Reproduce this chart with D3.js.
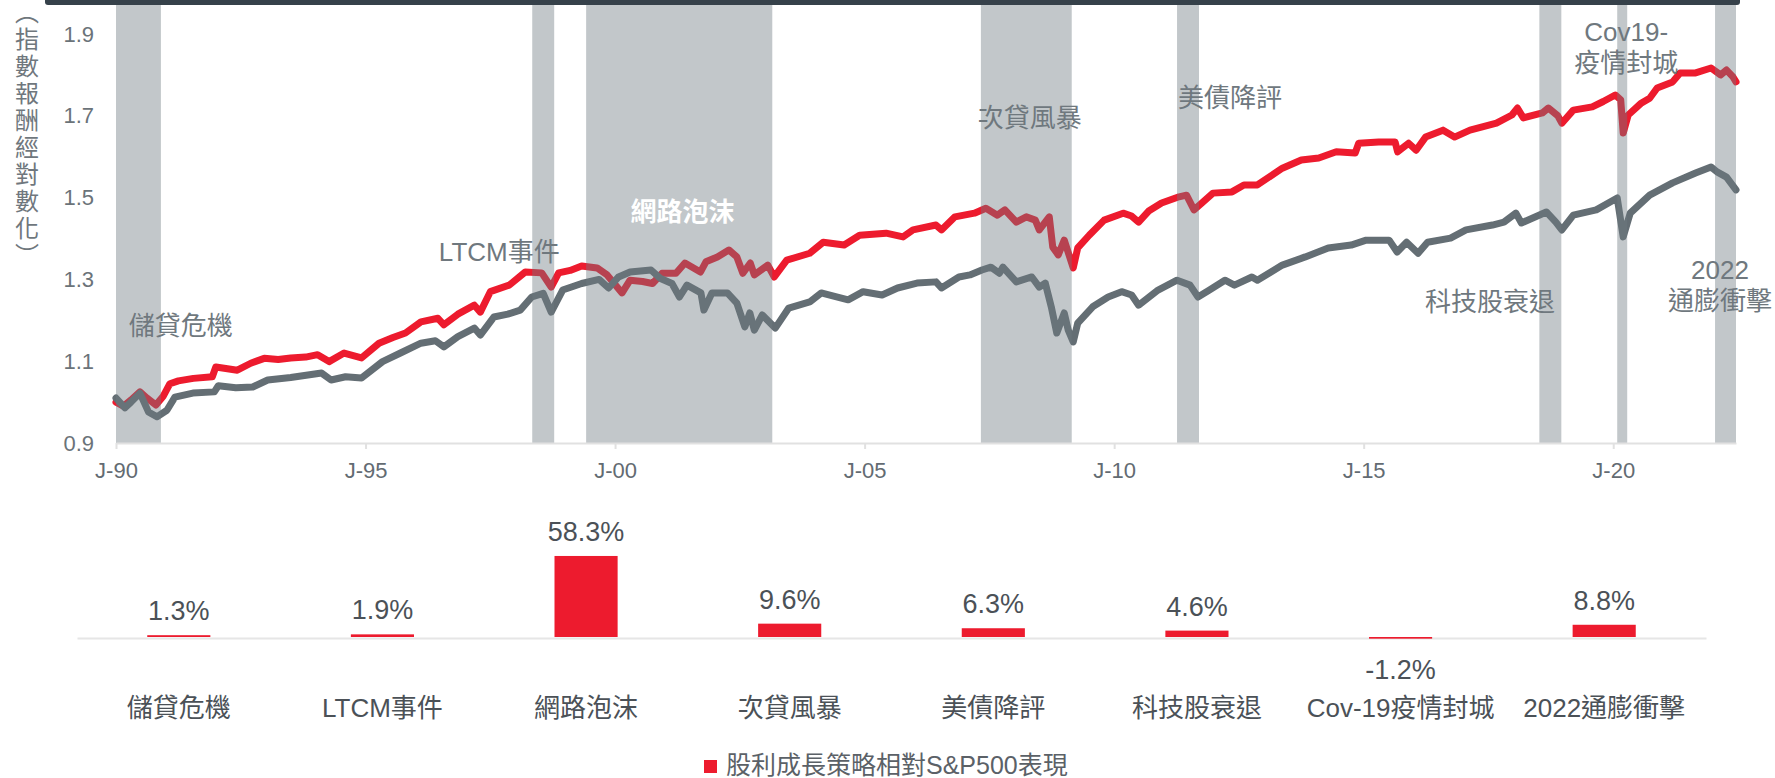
<!DOCTYPE html>
<html>
<head>
<meta charset="utf-8">
<script src="https://cdn.jsdelivr.net/npm/d3@7"></script>
<style>
  body { margin: 0; background: #fff; }
  svg { display: block; font-family: "Liberation Sans", Arial, "Noto Sans CJK TC", sans-serif; }
</style>
</head>
<body>
<svg id="chart" width="1775" height="778"></svg>
<script>
'use strict';

// top panel: log-return index, [year, value]
var dividendGrowth = [
  [1990.00, 1.000], [1990.15, 0.990], [1990.30, 1.005], [1990.48, 1.025], [1990.62, 1.010],
  [1990.80, 0.993], [1990.95, 1.015], [1991.08, 1.045], [1991.25, 1.052], [1991.55, 1.058],
  [1991.93, 1.062], [1992.00, 1.086], [1992.20, 1.082], [1992.43, 1.078], [1992.70, 1.095],
  [1992.97, 1.107], [1993.25, 1.104], [1993.50, 1.108], [1993.80, 1.110], [1994.04, 1.116],
  [1994.27, 1.099], [1994.57, 1.120], [1994.92, 1.108], [1995.27, 1.144], [1995.55, 1.158],
  [1995.80, 1.169], [1996.11, 1.196], [1996.45, 1.205], [1996.57, 1.189], [1996.85, 1.215],
  [1997.18, 1.237], [1997.30, 1.220], [1997.50, 1.270], [1997.88, 1.286], [1998.20, 1.318],
  [1998.53, 1.316], [1998.72, 1.281], [1998.87, 1.316], [1999.10, 1.322], [1999.33, 1.333],
  [1999.64, 1.328], [1999.84, 1.311], [2000.14, 1.267], [2000.30, 1.298], [2000.55, 1.295],
  [2000.75, 1.290], [2000.94, 1.315], [2001.22, 1.315], [2001.40, 1.340], [2001.71, 1.318],
  [2001.82, 1.343], [2002.05, 1.355], [2002.28, 1.372], [2002.44, 1.355], [2002.56, 1.315],
  [2002.71, 1.340], [2002.79, 1.311], [2003.06, 1.335], [2003.19, 1.306], [2003.44, 1.347],
  [2003.90, 1.364], [2004.17, 1.391], [2004.59, 1.384], [2004.90, 1.408], [2005.43, 1.413],
  [2005.77, 1.404], [2005.97, 1.421], [2006.43, 1.433], [2006.54, 1.421], [2006.81, 1.453],
  [2007.20, 1.462], [2007.43, 1.474], [2007.66, 1.457], [2007.81, 1.470], [2008.04, 1.440],
  [2008.24, 1.453], [2008.42, 1.445], [2008.50, 1.421], [2008.70, 1.453], [2008.77, 1.379],
  [2008.88, 1.360], [2009.00, 1.396], [2009.18, 1.328], [2009.27, 1.377], [2009.50, 1.408],
  [2009.80, 1.445], [2010.18, 1.462], [2010.35, 1.455], [2010.49, 1.440], [2010.70, 1.468],
  [2010.95, 1.487], [2011.30, 1.502], [2011.45, 1.506], [2011.60, 1.470], [2011.76, 1.487],
  [2011.98, 1.511], [2012.36, 1.514], [2012.60, 1.531], [2012.87, 1.531], [2013.37, 1.572],
  [2013.75, 1.592], [2014.10, 1.597], [2014.45, 1.612], [2014.83, 1.609], [2014.90, 1.633],
  [2015.30, 1.636], [2015.63, 1.636], [2015.68, 1.612], [2015.90, 1.633], [2016.05, 1.616],
  [2016.24, 1.648], [2016.59, 1.665], [2016.82, 1.648], [2017.13, 1.665], [2017.66, 1.682],
  [2017.97, 1.702], [2018.08, 1.719], [2018.20, 1.695], [2018.58, 1.707], [2018.70, 1.719],
  [2018.89, 1.700], [2018.97, 1.682], [2019.20, 1.714], [2019.58, 1.722], [2019.80, 1.735],
  [2020.04, 1.751], [2020.15, 1.739], [2020.20, 1.658], [2020.30, 1.702], [2020.55, 1.730],
  [2020.73, 1.743], [2020.88, 1.768], [2021.19, 1.783], [2021.34, 1.805], [2021.65, 1.805],
  [2021.96, 1.817], [2022.15, 1.800], [2022.27, 1.812], [2022.40, 1.795], [2022.46, 1.783]
];

var sp500 = [
  [1990.00, 1.010], [1990.18, 0.986], [1990.30, 1.000], [1990.48, 1.022], [1990.65, 0.976],
  [1990.82, 0.964], [1991.02, 0.980], [1991.18, 1.012], [1991.54, 1.022], [1991.97, 1.025],
  [1992.05, 1.040], [1992.40, 1.035], [1992.74, 1.037], [1993.04, 1.054], [1993.50, 1.060],
  [1994.12, 1.071], [1994.31, 1.054], [1994.60, 1.062], [1994.92, 1.059], [1995.34, 1.099],
  [1995.70, 1.120], [1996.11, 1.144], [1996.40, 1.150], [1996.57, 1.135], [1996.85, 1.160],
  [1997.18, 1.181], [1997.30, 1.164], [1997.57, 1.208], [1997.85, 1.215], [1998.10, 1.225],
  [1998.33, 1.257], [1998.56, 1.266], [1998.72, 1.220], [1998.95, 1.274], [1999.33, 1.290],
  [1999.68, 1.300], [1999.87, 1.279], [2000.07, 1.306], [2000.30, 1.318], [2000.72, 1.323],
  [2000.90, 1.303], [2001.14, 1.290], [2001.29, 1.257], [2001.44, 1.286], [2001.72, 1.267],
  [2001.78, 1.225], [2001.94, 1.267], [2002.25, 1.267], [2002.44, 1.242], [2002.60, 1.184],
  [2002.70, 1.218], [2002.79, 1.176], [2002.95, 1.213], [2003.21, 1.181], [2003.48, 1.230],
  [2003.90, 1.245], [2004.13, 1.267], [2004.67, 1.250], [2004.97, 1.270], [2005.35, 1.262],
  [2005.66, 1.279], [2006.05, 1.291], [2006.43, 1.294], [2006.54, 1.279], [2006.89, 1.306],
  [2007.11, 1.311], [2007.35, 1.323], [2007.53, 1.330], [2007.70, 1.315], [2007.77, 1.330],
  [2008.04, 1.294], [2008.35, 1.306], [2008.50, 1.281], [2008.62, 1.291], [2008.74, 1.233],
  [2008.85, 1.169], [2009.00, 1.218], [2009.08, 1.176], [2009.18, 1.147], [2009.27, 1.193],
  [2009.57, 1.233], [2009.88, 1.257], [2010.15, 1.270], [2010.35, 1.262], [2010.49, 1.237],
  [2010.88, 1.274], [2011.26, 1.298], [2011.52, 1.286], [2011.68, 1.257], [2011.91, 1.274],
  [2012.22, 1.298], [2012.41, 1.286], [2012.76, 1.306], [2012.87, 1.298], [2013.37, 1.335],
  [2013.83, 1.355], [2014.29, 1.377], [2014.75, 1.384], [2015.05, 1.396], [2015.51, 1.396],
  [2015.67, 1.367], [2015.86, 1.391], [2016.09, 1.364], [2016.28, 1.391], [2016.74, 1.401],
  [2017.05, 1.421], [2017.58, 1.433], [2017.81, 1.440], [2018.05, 1.462], [2018.16, 1.438],
  [2018.66, 1.465], [2018.85, 1.440], [2018.97, 1.421], [2019.20, 1.457], [2019.66, 1.470],
  [2020.08, 1.499], [2020.20, 1.404], [2020.34, 1.462], [2020.73, 1.506], [2021.19, 1.536],
  [2021.65, 1.560], [2021.96, 1.575], [2022.08, 1.563], [2022.27, 1.550], [2022.46, 1.519]
];

// shaded crisis periods
var eventStart = [1990.00, 1998.34, 1999.42, 2007.33, 2011.26, 2018.52, 2020.08, 2022.04];
var eventEnd = [1990.90, 1998.78, 2003.15, 2009.15, 2011.70, 2018.96, 2020.28, 2022.46];
var eventLabelLines = [["儲貸危機"], ["LTCM事件"], ["網路泡沫"], ["次貸風暴"], ["美債降評"],
  ["科技股衰退"], ["Cov19-", "疫情封城"], ["2022", "通膨衝擊"]];
var eventLabelAt = [[1991.30, 1.186], [1997.68, 1.367], [2001.35, 1.465], [2008.31, 1.695],
  [2012.32, 1.744], [2017.53, 1.245], [2020.26, 1.905], [2022.14, 1.323]];

var xTicks = [1990, 1995, 2000, 2005, 2010, 2015, 2020];
var yTicks = [0.9, 1.1, 1.3, 1.5, 1.7, 1.9];

// bottom panel: relative performance during each event
var barCategories = ["儲貸危機", "LTCM事件", "網路泡沫", "次貸風暴", "美債降評", "科技股衰退", "Cov-19疫情封城", "2022通膨衝擊"];
var barValues = [1.3, 1.9, 58.3, 9.6, 6.3, 4.6, -1.2, 8.8];

var RED = "#ed1b2e", GREY = "#646e74";

var svg = d3.select("#chart");

var x = d3.scaleLinear().domain([1990, 2022.46]).range([116, 1736]);
var y = d3.scaleLinear().domain([0.9, 1.971]).range([443, 5]);

// dark strip at the top
svg.append("rect")
    .attr("x", 45).attr("y", -4)
    .attr("width", 1695).attr("height", 9)
    .attr("rx", 3)
    .attr("fill", "#36414a");

var line = d3.line()
    .x(function (d) { return x(d[0]); })
    .y(function (d) { return y(d[1]); });

svg.append("path")
    .datum(dividendGrowth)
    .attr("d", line)
    .attr("fill", "none")
    .attr("stroke", RED)
    .attr("stroke-width", 7)
    .attr("stroke-linejoin", "round")
    .attr("stroke-linecap", "round");

svg.append("path")
    .datum(sp500)
    .attr("d", line)
    .attr("fill", "none")
    .attr("stroke", GREY)
    .attr("stroke-width", 7)
    .attr("stroke-linejoin", "round")
    .attr("stroke-linecap", "round");

// translucent bands over the lines (darkens red inside)
svg.selectAll(".band")
    .data(eventStart)
    .enter().append("rect")
    .attr("class", "band")
    .attr("x", function (d) { return x(d); })
    .attr("width", function (d, i) { return x(eventEnd[i]) - x(d); })
    .attr("y", y(y.domain()[1]))
    .attr("height", y(y.domain()[0]) - y(y.domain()[1]))
    .attr("fill", "#6e7a81")
    .attr("fill-opacity", 0.42);

// axes
var xAxis = svg.append("g")
    .attr("transform", "translate(0," + y(0.9) + ")")
    .call(d3.axisBottom(x)
        .tickValues(xTicks)
        .tickFormat(function (d) { return "J-" + String(d).slice(2); })
        .tickSize(6)
        .tickSizeOuter(0)
        .tickPadding(13));
xAxis.attr("font-family", null).attr("font-size", 22);
xAxis.select(".domain").attr("stroke", "#e1e1e1").attr("stroke-width", 2);
xAxis.selectAll(".tick line").attr("stroke", "#e1e1e1").attr("stroke-width", 2);
xAxis.selectAll(".tick text").attr("fill", "#636b72");

var yAxis = svg.append("g")
    .attr("transform", "translate(116,0)")
    .call(d3.axisLeft(y)
        .tickValues(yTicks)
        .tickFormat(d3.format(".1f"))
        .tickSize(0)
        .tickPadding(22));
yAxis.attr("font-family", null).attr("font-size", 22);
yAxis.select(".domain").remove();
yAxis.selectAll(".tick text").attr("fill", "#6b7379");

// vertical axis title
svg.append("text")
    .attr("x", 25)
    .attr("y", 135)
    .attr("text-anchor", "middle")
    .style("writing-mode", "vertical-rl")
    .style("font-size", "24px")
    .style("letter-spacing", "3px")
    .attr("fill", "#6f777d")
    .text("（指數報酬經對數化）");

// event labels
var labels = svg.selectAll(".evlabel")
    .data(eventLabelLines)
    .enter().append("text")
    .attr("class", "evlabel")
    .attr("x", function (d, i) { return x(eventLabelAt[i][0]); })
    .attr("y", function (d, i) { return y(eventLabelAt[i][1]); })
    .attr("text-anchor", "middle")
    .attr("dominant-baseline", "central")
    .style("font-size", "26px")
    .attr("fill", function (d, i) { return i === 2 ? "#ffffff" : "#6f787e"; })
    .style("font-weight", function (d, i) { return i === 2 ? "bold" : "normal"; });

labels.selectAll("tspan")
    .data(function (d) { return d; })
    .enter().append("tspan")
    .attr("x", function () { return d3.select(this.parentNode).attr("x"); })
    .attr("dy", function (d, i) { return i === 0 ? 0 : 31; })
    .text(function (d) { return d; });

// ---- bar chart ----
var bx = d3.scaleBand()
    .domain(barCategories)
    .range([77, 1706])
    .paddingInner(0.69)
    .paddingOuter(0.345);

var by = d3.scaleLinear().domain([0, 60]).range([637, 553.6]);

var catAxis = svg.append("g")
    .attr("transform", "translate(0," + (by(0) + 1) + ")")
    .call(d3.axisBottom(bx).tickSize(0).tickSizeOuter(0).tickPadding(61));
catAxis.attr("font-family", null).attr("font-size", 26);
catAxis.select(".domain").attr("stroke", "#e6e6e6").attr("stroke-width", 2);
catAxis.selectAll(".tick text").attr("fill", "#4b5157");

svg.selectAll(".bar")
    .data(barValues)
    .enter().append("rect")
    .attr("class", "bar")
    .attr("x", function (d, i) { return bx(barCategories[i]); })
    .attr("width", bx.bandwidth())
    .attr("y", function (d) { return d >= 0 ? by(d) : by(0); })
    .attr("height", function (d) { return Math.abs(by(d) - by(0)); })
    .attr("fill", RED);

var pct = d3.format(".1f");
svg.selectAll(".val")
    .data(barValues)
    .enter().append("text")
    .attr("class", "val")
    .attr("x", function (d, i) { return bx(barCategories[i]) + bx.bandwidth() / 2; })
    .attr("y", function (d) { return d >= 0 ? by(d) - 15 : by(d) + 40; })
    .attr("text-anchor", "middle")
    .style("font-size", "27px")
    .attr("fill", "#4b5157")
    .text(function (d) { return pct(d).replace("\u2212", "-") + "%"; });

// legend
svg.append("rect")
    .attr("x", 704).attr("y", 760)
    .attr("width", 13).attr("height", 13)
    .attr("fill", RED);
svg.append("text")
    .attr("x", 726).attr("y", 765)
    .attr("dominant-baseline", "central")
    .style("font-size", "25px")
    .attr("fill", "#5b6167")
    .text("股利成長策略相對S&P500表現");
</script>
</body>
</html>
